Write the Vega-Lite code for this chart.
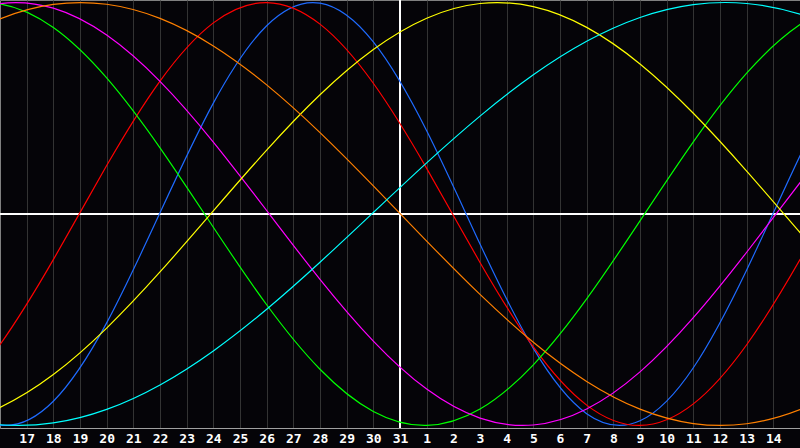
{
  "$schema": "https://vega.github.io/schema/vega-lite/v6.json",
  "width": 800,
  "height": 428,
  "autosize": "none",
  "padding": {"top": 0, "left": 0, "right": 0, "bottom": 20},
  "background": "#050408",
  "config": {
    "view": {"fill": "#050408", "stroke": "#808080", "strokeWidth": 1}
  },
  "datasets": {
    "cycles": [
      {"c": "Physical", "d": 12, "v": -0.4034}, {"c": "Physical", "d": 14, "v": -0.8201},
      {"c": "Physical", "d": 16, "v": -0.9980}, {"c": "Physical", "d": 18, "v": -0.8854},
      {"c": "Physical", "d": 20, "v": -0.5149}, {"c": "Physical", "d": 22, "v": 0.0055},
      {"c": "Physical", "d": 24, "v": 0.5242}, {"c": "Physical", "d": 26, "v": 0.8904},
      {"c": "Physical", "d": 28, "v": 0.9973}, {"c": "Physical", "d": 30, "v": 0.8138},
      {"c": "Physical", "d": 32, "v": 0.3934}, {"c": "Physical", "d": 34, "v": -0.1416},
      {"c": "Physical", "d": 36, "v": -0.6353}, {"c": "Physical", "d": 38, "v": -0.9441},
      {"c": "Physical", "d": 40, "v": -0.9780}, {"c": "Physical", "d": 42, "v": -0.7271},
      {"c": "Physical", "d": 44, "v": -0.2645}, {"c": "Physical", "d": 46, "v": 0.2751},
      {"c": "Physical", "d": 48, "v": 0.7346}, {"c": "Physical", "d": 50, "v": 0.9802},

      {"c": "Emotional", "d": 12, "v": -1.0000}, {"c": "Emotional", "d": 14, "v": -0.8980},
      {"c": "Emotional", "d": 16, "v": -0.6182}, {"c": "Emotional", "d": 18, "v": -0.2159},
      {"c": "Emotional", "d": 20, "v": 0.2291}, {"c": "Emotional", "d": 22, "v": 0.6287},
      {"c": "Emotional", "d": 24, "v": 0.9039}, {"c": "Emotional", "d": 26, "v": 1.0000},
      {"c": "Emotional", "d": 28, "v": 0.8980}, {"c": "Emotional", "d": 30, "v": 0.6182},
      {"c": "Emotional", "d": 32, "v": 0.2159}, {"c": "Emotional", "d": 34, "v": -0.2291},
      {"c": "Emotional", "d": 36, "v": -0.6287}, {"c": "Emotional", "d": 38, "v": -0.9039},
      {"c": "Emotional", "d": 40, "v": -1.0000}, {"c": "Emotional", "d": 42, "v": -0.8980},
      {"c": "Emotional", "d": 44, "v": -0.6182}, {"c": "Emotional", "d": 46, "v": -0.2159},
      {"c": "Emotional", "d": 48, "v": 0.2291}, {"c": "Emotional", "d": 50, "v": 0.6287},

      {"c": "Intellectual", "d": 12, "v": 0.7954}, {"c": "Intellectual", "d": 14, "v": 0.9637},
      {"c": "Intellectual", "d": 16, "v": 0.9939}, {"c": "Intellectual", "d": 18, "v": 0.8818},
      {"c": "Intellectual", "d": 20, "v": 0.6433}, {"c": "Intellectual", "d": 22, "v": 0.3126},
      {"c": "Intellectual", "d": 24, "v": -0.0628}, {"c": "Intellectual", "d": 26, "v": -0.4292},
      {"c": "Intellectual", "d": 28, "v": -0.7342}, {"c": "Intellectual", "d": 30, "v": -0.9339},
      {"c": "Intellectual", "d": 32, "v": -0.9999}, {"c": "Intellectual", "d": 34, "v": -0.9226},
      {"c": "Intellectual", "d": 36, "v": -0.7131}, {"c": "Intellectual", "d": 38, "v": -0.4015},
      {"c": "Intellectual", "d": 40, "v": -0.0324}, {"c": "Intellectual", "d": 42, "v": 0.3414},
      {"c": "Intellectual", "d": 44, "v": 0.6663}, {"c": "Intellectual", "d": 46, "v": 0.8957},
      {"c": "Intellectual", "d": 48, "v": 0.9968}, {"c": "Intellectual", "d": 50, "v": 0.9551},

      {"c": "Intuitive", "d": 12, "v": 0.7244}, {"c": "Intuitive", "d": 14, "v": 0.9090},
      {"c": "Intuitive", "d": 16, "v": 0.9951}, {"c": "Intuitive", "d": 18, "v": 0.9733},
      {"c": "Intuitive", "d": 20, "v": 0.8461}, {"c": "Intuitive", "d": 22, "v": 0.6272},
      {"c": "Intuitive", "d": 24, "v": 0.3403}, {"c": "Intuitive", "d": 26, "v": 0.0165},
      {"c": "Intuitive", "d": 28, "v": -0.3090}, {"c": "Intuitive", "d": 30, "v": -0.6011},
      {"c": "Intuitive", "d": 32, "v": -0.8280}, {"c": "Intuitive", "d": 34, "v": -0.9652},
      {"c": "Intuitive", "d": 36, "v": -0.9978}, {"c": "Intuitive", "d": 38, "v": -0.9223},
      {"c": "Intuitive", "d": 40, "v": -0.7468}, {"c": "Intuitive", "d": 42, "v": -0.4904},
      {"c": "Intuitive", "d": 44, "v": -0.1809}, {"c": "Intuitive", "d": 46, "v": 0.1483},
      {"c": "Intuitive", "d": 48, "v": 0.4614}, {"c": "Intuitive", "d": 50, "v": 0.7244},

      {"c": "Aesthetic", "d": 12, "v": -0.9859}, {"c": "Aesthetic", "d": 14, "v": -0.9923},
      {"c": "Aesthetic", "d": 16, "v": -0.9145}, {"c": "Aesthetic", "d": 18, "v": -0.7592},
      {"c": "Aesthetic", "d": 20, "v": -0.5395}, {"c": "Aesthetic", "d": 22, "v": -0.2741},
      {"c": "Aesthetic", "d": 24, "v": 0.0146}, {"c": "Aesthetic", "d": 26, "v": 0.3021},
      {"c": "Aesthetic", "d": 28, "v": 0.5639}, {"c": "Aesthetic", "d": 30, "v": 0.7779},
      {"c": "Aesthetic", "d": 32, "v": 0.9260}, {"c": "Aesthetic", "d": 34, "v": 0.9955},
      {"c": "Aesthetic", "d": 36, "v": 0.9806}, {"c": "Aesthetic", "d": 38, "v": 0.8826},
      {"c": "Aesthetic", "d": 40, "v": 0.7097}, {"c": "Aesthetic", "d": 42, "v": 0.4766},
      {"c": "Aesthetic", "d": 44, "v": 0.2032}, {"c": "Aesthetic", "d": 46, "v": -0.0876},
      {"c": "Aesthetic", "d": 48, "v": -0.3708}, {"c": "Aesthetic", "d": 50, "v": -0.6227},

      {"c": "Awareness", "d": 12, "v": 0.6067}, {"c": "Awareness", "d": 14, "v": 0.7918},
      {"c": "Awareness", "d": 16, "v": 0.9229}, {"c": "Awareness", "d": 18, "v": 0.9911},
      {"c": "Awareness", "d": 20, "v": 0.9918}, {"c": "Awareness", "d": 22, "v": 0.9249},
      {"c": "Awareness", "d": 24, "v": 0.7950}, {"c": "Awareness", "d": 26, "v": 0.6108},
      {"c": "Awareness", "d": 28, "v": 0.3851}, {"c": "Awareness", "d": 30, "v": 0.1331},
      {"c": "Awareness", "d": 32, "v": -0.1279}, {"c": "Awareness", "d": 34, "v": -0.3803},
      {"c": "Awareness", "d": 36, "v": -0.6067}, {"c": "Awareness", "d": 38, "v": -0.7918},
      {"c": "Awareness", "d": 40, "v": -0.9229}, {"c": "Awareness", "d": 42, "v": -0.9911},
      {"c": "Awareness", "d": 44, "v": -0.9918}, {"c": "Awareness", "d": 46, "v": -0.9249},
      {"c": "Awareness", "d": 48, "v": -0.7950}, {"c": "Awareness", "d": 50, "v": -0.6108},

      {"c": "Spiritual", "d": 12, "v": -0.8494}, {"c": "Spiritual", "d": 14, "v": -0.9496},
      {"c": "Spiritual", "d": 16, "v": -0.9967}, {"c": "Spiritual", "d": 18, "v": -0.9880},
      {"c": "Spiritual", "d": 20, "v": -0.9240}, {"c": "Spiritual", "d": 22, "v": -0.8083},
      {"c": "Spiritual", "d": 24, "v": -0.6474}, {"c": "Spiritual", "d": 26, "v": -0.4503},
      {"c": "Spiritual", "d": 28, "v": -0.2280}, {"c": "Spiritual", "d": 30, "v": 0.0071},
      {"c": "Spiritual", "d": 32, "v": 0.2418}, {"c": "Spiritual", "d": 34, "v": 0.4630},
      {"c": "Spiritual", "d": 36, "v": 0.6582}, {"c": "Spiritual", "d": 38, "v": 0.8166},
      {"c": "Spiritual", "d": 40, "v": 0.9293}, {"c": "Spiritual", "d": 42, "v": 0.9901},
      {"c": "Spiritual", "d": 44, "v": 0.9954}, {"c": "Spiritual", "d": 46, "v": 0.9450},
      {"c": "Spiritual", "d": 48, "v": 0.8418}, {"c": "Spiritual", "d": 50, "v": 0.6914}
    ]
  },
  "data": {"name": "cycles"},
  "encoding": {
    "x": {
      "field": "d",
      "type": "quantitative",
      "scale": {"domain": [16, 46], "nice": false, "zero": false},
      "axis": {
        "title": null,
        "values": [17, 18, 19, 20, 21, 22, 23, 24, 25, 26, 27, 28, 29, 30, 31, 32, 33, 34, 35, 36, 37, 38, 39, 40, 41, 42, 43, 44, 45],
        "labelExpr": "datum.value > 31 ? datum.value - 31 : datum.value",
        "grid": true,
        "gridColor": "#333333",
        "gridOpacity": 1,
        "ticks": false,
        "domainColor": "#a0a0a0",
        "labelColor": "#ffffff",
        "labelFont": "DejaVu Sans Mono",
        "labelFontWeight": "bold",
        "labelFontSize": 13,
        "labelPadding": 4,
        "labelFlush": false,
        "labelOverlap": false
      }
    },
    "y": {
      "field": "v",
      "type": "quantitative",
      "scale": {"domain": [-1.012, 1.012], "nice": false, "zero": false},
      "axis": null
    }
  },
  "layer": [
    {
      "mark": {"type": "rule", "color": "#ffffff", "strokeWidth": 1},
      "encoding": {"y": {"datum": 0}, "x": null}
    },
    {
      "mark": {"type": "rule", "color": "#ffffff", "strokeWidth": 1},
      "encoding": {"x": {"datum": 31}, "y": null}
    },
    {
      "mark": {"type": "line", "interpolate": "natural", "strokeWidth": 1.2, "clip": true},
      "encoding": {
        "detail": {"field": "c"},
        "color": {
          "field": "c",
          "type": "nominal",
          "legend": null,
          "scale": {
            "domain": ["Physical", "Emotional", "Intellectual", "Intuitive", "Aesthetic", "Awareness", "Spiritual"],
            "range": ["#1f6bff", "#ff0000", "#00ff00", "#ff00ff", "#ffff00", "#ff8000", "#00ffff"]
          }
        }
      }
    }
  ]
}
